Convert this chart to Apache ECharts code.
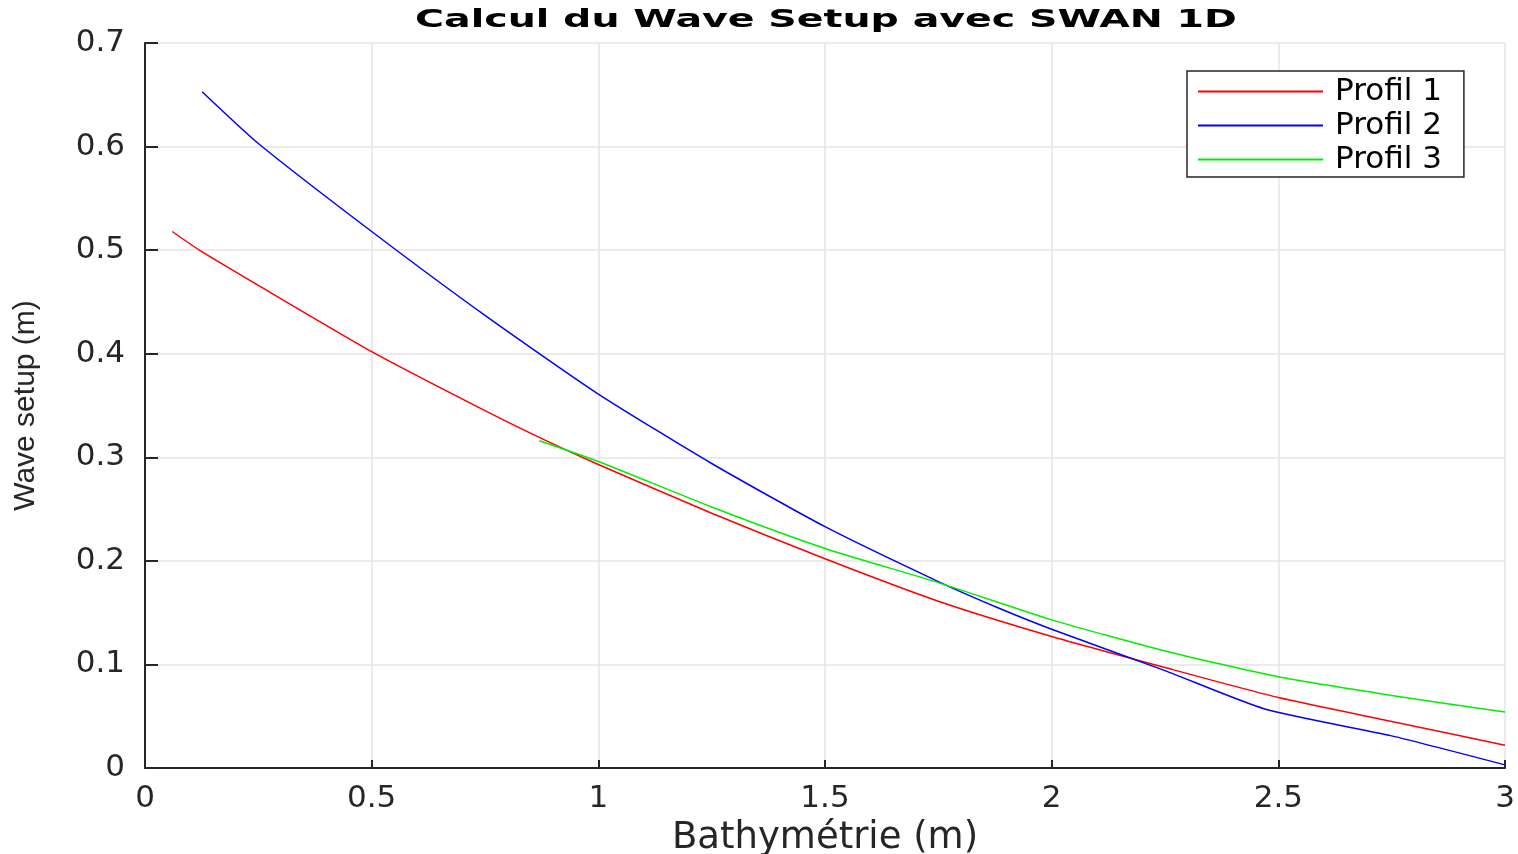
<!DOCTYPE html>
<html>
<head>
<meta charset="utf-8">
<title>Calcul du Wave Setup avec SWAN 1D</title>
<script src="https://cdn.jsdelivr.net/npm/echarts@6/dist/echarts.min.js"></script>
<style>
  html, body { margin: 0; padding: 0; background: #fff; }
  #chart { width: 1518px; height: 854px; }
</style>
</head>
<body>
<div id="chart"></div>
<script>
// values
var profil1X = [0.06, 0.12, 0.25, 0.5, 0.75, 0.88, 1.0, 1.25, 1.5, 1.75, 2.0, 2.25, 2.5, 2.75, 3.0];
var profil1Y = [0.518, 0.500, 0.466, 0.402, 0.345, 0.317, 0.293, 0.246, 0.202, 0.161, 0.127, 0.097, 0.068, 0.045, 0.022];

var profil2X = [0.126, 0.25, 0.5, 0.75, 1.0, 1.25, 1.5, 1.75, 1.88, 2.0, 2.25, 2.47, 2.75, 3.0];
var profil2Y = [0.653, 0.603, 0.518, 0.437, 0.361, 0.294, 0.233, 0.180, 0.155, 0.134, 0.094, 0.057, 0.031, 0.003];

var profil3X = [0.87, 1.0, 1.25, 1.5, 1.75, 2.0, 2.25, 2.5, 2.75, 3.0];
var profil3Y = [0.316, 0.296, 0.252, 0.212, 0.179, 0.143, 0.113, 0.088, 0.070, 0.054];

var seriesNames = ['Profil 1', 'Profil 2', 'Profil 3'];
var seriesColors = ['#ff0000', '#0000ff', '#00ee00'];

function pairs(xs, ys) {
    var out = [];
    for (var i = 0; i < xs.length; i++) {
        out.push([xs[i], ys[i]]);
    }
    return out;
}

var allX = [profil1X, profil2X, profil3X];
var allY = [profil1Y, profil2Y, profil3Y];

var series = [];
for (var s = 0; s < seriesNames.length; s++) {
    series.push({
        name: seriesNames[s],
        type: 'line',
        data: pairs(allX[s], allY[s]),
        showSymbol: false,
        symbol: 'none',
        smooth: 0.2,
        lineStyle: { color: seriesColors[s], width: 1.5 },
        itemStyle: { color: seriesColors[s] },
        animation: false
    });
}

var axisColor = '#262626';
var fontFam = '"DejaVu Sans", sans-serif';

var chart = echarts.init(document.getElementById('chart'));
var option = {
    backgroundColor: '#ffffff',
    // title is drawn as a stretched text so it keeps the wide look of the figure
    graphic: [{
        type: 'text',
        x: 826,
        y: 8,
        scaleX: 1.58,
        style: {
            text: 'Calcul du Wave Setup avec SWAN 1D',
            font: 'bold 25px "DejaVu Sans", sans-serif',
            fill: '#000',
            align: 'center',
            verticalAlign: 'top'
        }
    }],
    legend: {
        data: seriesNames,
        orient: 'vertical',
        left: 1187,
        top: 71,
        icon: 'rect',
        itemWidth: 125,
        itemHeight: 2,
        itemGap: 3,
        itemTextGap: 12,
        padding: [5, 22, 2, 11],
        backgroundColor: '#fff',
        borderColor: axisColor,
        borderWidth: 1.5,
        borderRadius: 0,
        textStyle: { fontFamily: fontFam, fontSize: 31, lineHeight: 30, color: '#000', padding: [0, 0, 0, 7] }
    },
    grid: { left: 145, right: 13, top: 43, bottom: 86, containLabel: false, outerBoundsMode: 'none' },
    xAxis: {
        type: 'value',
        min: 0,
        max: 3,
        interval: 0.5,
        name: 'Bathymétrie (m)',
        nameLocation: 'middle',
        nameGap: 52,
        nameTextStyle: { fontFamily: fontFam, fontSize: 37, color: axisColor },
        axisLine: { show: true, lineStyle: { color: axisColor, width: 2 } },
        axisTick: { show: true, inside: true, length: 8, lineStyle: { color: axisColor, width: 2 } },
        axisLabel: { margin: 15, fontFamily: fontFam, fontSize: 31, color: axisColor },
        splitLine: { show: true, lineStyle: { color: '#e4e4e4', width: 1.5 } }
    },
    yAxis: {
        type: 'value',
        min: 0,
        max: 0.7,
        interval: 0.1,
        name: 'Wave setup (m)',
        nameLocation: 'middle',
        nameGap: 104,
        nameTextStyle: { fontFamily: '"Liberation Sans", sans-serif', fontSize: 30, color: axisColor },
        axisLine: { show: true, lineStyle: { color: axisColor, width: 2 } },
        axisTick: { show: true, inside: true, length: 13, lineStyle: { color: axisColor, width: 2 } },
        axisLabel: { margin: 20, fontFamily: fontFam, fontSize: 31, color: axisColor },
        splitLine: { show: true, lineStyle: { color: '#e4e4e4', width: 1.5 } }
    },
    series: series
};
chart.setOption(option);
</script>
</body>
</html>
